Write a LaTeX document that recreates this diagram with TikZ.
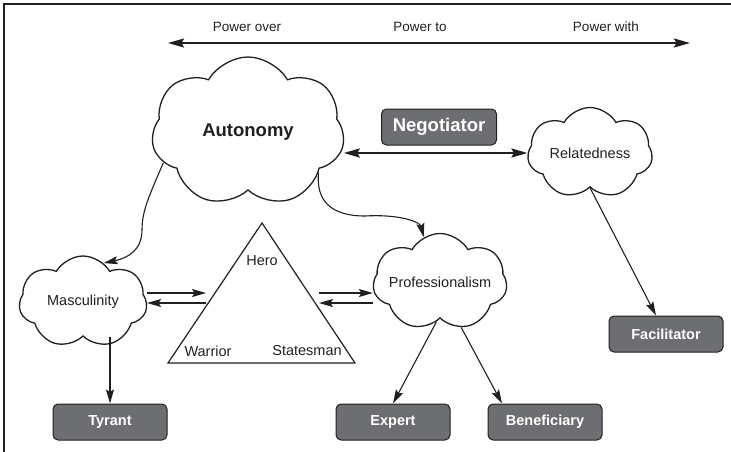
\documentclass[tikz,border=0pt]{standalone}
\usepackage{fontspec}
\setmainfont{Liberation Sans}
\usetikzlibrary{arrows.meta,shapes.symbols}
\definecolor{ink}{HTML}{231F20}
\definecolor{slate}{HTML}{6D6E71}
\tikzset{
  puff/.style={cloud,cloud puffs=#1,cloud puff arc=120,cloud ignores aspect,draw=ink,line width=1.3pt,fill=white,inner sep=0pt,font=\fontsize{14.5}{16}\selectfont,text=ink},
  rolebox/.style={draw=ink,line width=1pt,fill=slate,rounded corners=5pt,minimum width=114pt,minimum height=36pt,inner sep=2pt,font=\fontsize{14.5}{16}\selectfont\bfseries,text=white},
  arrow/.style={-{Stealth[length=14pt,width=8pt,inset=2.5pt]},line width=1.1pt,color=ink},
  bigarrow/.style={{Stealth[length=16pt,width=9pt,inset=2.5pt]}-{Stealth[length=16pt,width=9pt,inset=2.5pt]},line width=2.2pt,color=ink},
  lbl/.style={font=\fontsize{14.5}{16}\selectfont,text=ink,inner sep=0pt},
  toplbl/.style={font=\fontsize{13.5}{15}\selectfont,text=ink,inner sep=0pt},
}
\begin{document}
\begin{tikzpicture}[x=1pt,y=-1pt]
    \useasboundingbox (0,0) rectangle (731,452);
    \draw[ink,line width=1.5pt] (731,4) -- (4,4) -- (4,452);
    % power scale
    \coordinate (over end) at (168,43);
    \coordinate (with end) at (690,43);
    \draw[bigarrow] (over end) -- (with end);
    \node[toplbl] (over) at (247,27) {Power over};
    \node[toplbl] (to) at (420,27) {Power to};
    \node[toplbl] (with) at (606,27) {Power with};
    % clouds
    \node[puff=7,minimum width=193pt,minimum height=150pt,font=\fontsize{18.5}{20}\selectfont\bfseries] (aut) at (248,132) {Autonomy};
    \node[puff=7,minimum width=125pt,minimum height=91pt] (rel) at (590,153) {Relatedness};
    \node[puff=7,minimum width=128pt,minimum height=92pt] (masc) at (83,302) {Masculinity};
    \node[puff=7,minimum width=126pt,minimum height=97pt] (prof) at (440,282) {Professionalism};
    % roles
    \node[rolebox,font=\fontsize{18.5}{20}\selectfont\bfseries,minimum width=115pt] (neg) at (439,127) {Negotiator};
    \node[rolebox] (tyr) at (110,422) {Tyrant};
    \node[rolebox] (exp) at (393,422) {Expert};
    \node[rolebox] (ben) at (545,422) {Beneficiary};
    \node[rolebox] (fac) at (666,334) {Facilitator};
    % hero triangle
    \coordinate (top) at (262,223);
    \coordinate (war) at (168,363);
    \coordinate (sta) at (355,363);
    \draw[ink,line width=1.2pt] (top) -- (war) -- (sta) -- cycle;
    \node[lbl] (hero) at (262,261) {Hero};
    \node[lbl] (warrior) at (208,351) {Warrior};
    \node[lbl] (states) at (307,351) {Statesman};
    \coordinate (tri left a) at (206,293);
    \coordinate (tri left b) at (206,303);
    \coordinate (tri right a) at (319,293);
    \coordinate (tri right b) at (319,303);
    % connectors
    \draw[bigarrow] (aut.east |- 0,153) -- (rel.west |- 0,153);
    \draw[arrow] (aut.200) .. controls (148,198) and (142,212) .. (142,230)
                 .. controls (142,250) and (128,258) .. (masc.62);
    \draw[arrow] (aut.330) .. controls (316,200) and (330,216) .. (365,216)
                 .. controls (400,214) and (420,222) .. (prof.110);
    \draw[arrow] (masc.east |- tri left a) -- (tri left a);
    \draw[arrow] (tri left b) -- (masc.east |- tri left b);
    \draw[arrow] (tri right a) -- (prof.west |- tri right a);
    \draw[arrow] (prof.west |- tri right b) -- (tri right b);
    \draw[arrow] (masc.south -| tyr.north) -- (tyr.north);
    \draw[arrow] (prof.265) -- (exp.north);
    \draw[arrow] (prof.295) -- (ben.north -| 502,0);
    \draw[arrow] (rel.south) -- (fac.north -| 656,0);
\end{tikzpicture}
\end{document}
